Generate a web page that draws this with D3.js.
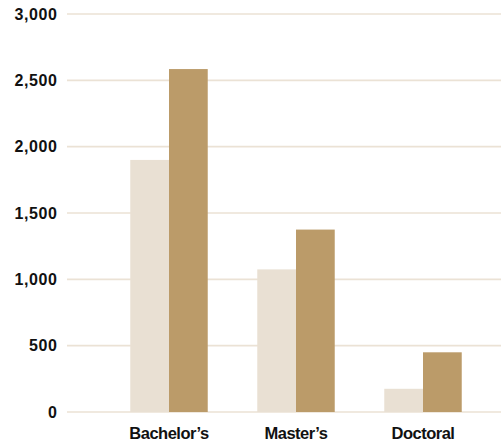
<!DOCTYPE html>
<html><head><meta charset="utf-8">
<script src="https://cdn.jsdelivr.net/npm/d3@7"></script>
<style>body{margin:0;background:#fff}</style>
</head><body>
<svg id="c" width="501" height="446"></svg>
<script>
const categories = ["Bachelor\u2019s", "Master\u2019s", "Doctoral"];
const seriesA = [1900, 1075, 175];
const seriesB = [2585, 1375, 450];
const ticks = [0, 500, 1000, 1500, 2000, 2500, 3000];

const svg = d3.select("#c");
const y = d3.scaleLinear().domain([0, 3000]).range([412, 14]);
const x = d3.scaleBand().domain(categories).range([105.5, 486.5]).paddingInner(0.39).paddingOuter(0.195);
const sub = d3.scaleBand().domain([0, 1]).range([0, x.bandwidth()]);

svg.append("g").selectAll("line").data(ticks).join("line")
  .attr("x1", 67).attr("x2", 501)
  .attr("y1", d => y(d)).attr("y2", d => y(d))
  .attr("stroke", "#ebe2d5").attr("stroke-width", 1.6);

svg.append("g").selectAll("text").data(ticks).join("text")
  .attr("x", 57.5).attr("y", d => y(d)).attr("dy", "0.36em")
  .attr("text-anchor", "end")
  .attr("font-family", "Liberation Sans, Arial, sans-serif")
  .attr("font-weight", "bold").attr("font-size", 16).attr("letter-spacing", 0.6).attr("fill", "#111")
  .text(d => d3.format(",")(d));

const g = svg.append("g");
g.selectAll("rect.a").data(categories).join("rect").attr("class", "a")
  .attr("x", (d) => x(d) + sub(0)).attr("width", sub.bandwidth())
  .attr("y", (d, i) => y(seriesA[i])).attr("height", (d, i) => y(0) - y(seriesA[i]))
  .attr("fill", "#e9e0d3");
g.selectAll("rect.b").data(categories).join("rect").attr("class", "b")
  .attr("x", (d) => x(d) + sub(1)).attr("width", sub.bandwidth())
  .attr("y", (d, i) => y(seriesB[i])).attr("height", (d, i) => y(0) - y(seriesB[i]))
  .attr("fill", "#bb9b69");

svg.append("g").selectAll("text").data(categories).join("text")
  .attr("x", d => x(d) + x.bandwidth() / 2).attr("y", 439)
  .attr("text-anchor", "middle")
  .attr("font-family", "Liberation Sans, Arial, sans-serif")
  .attr("font-weight", "bold").attr("font-size", 16.5).attr("letter-spacing", -0.5).attr("fill", "#111")
  .text(d => d);
</script>
</body></html>
